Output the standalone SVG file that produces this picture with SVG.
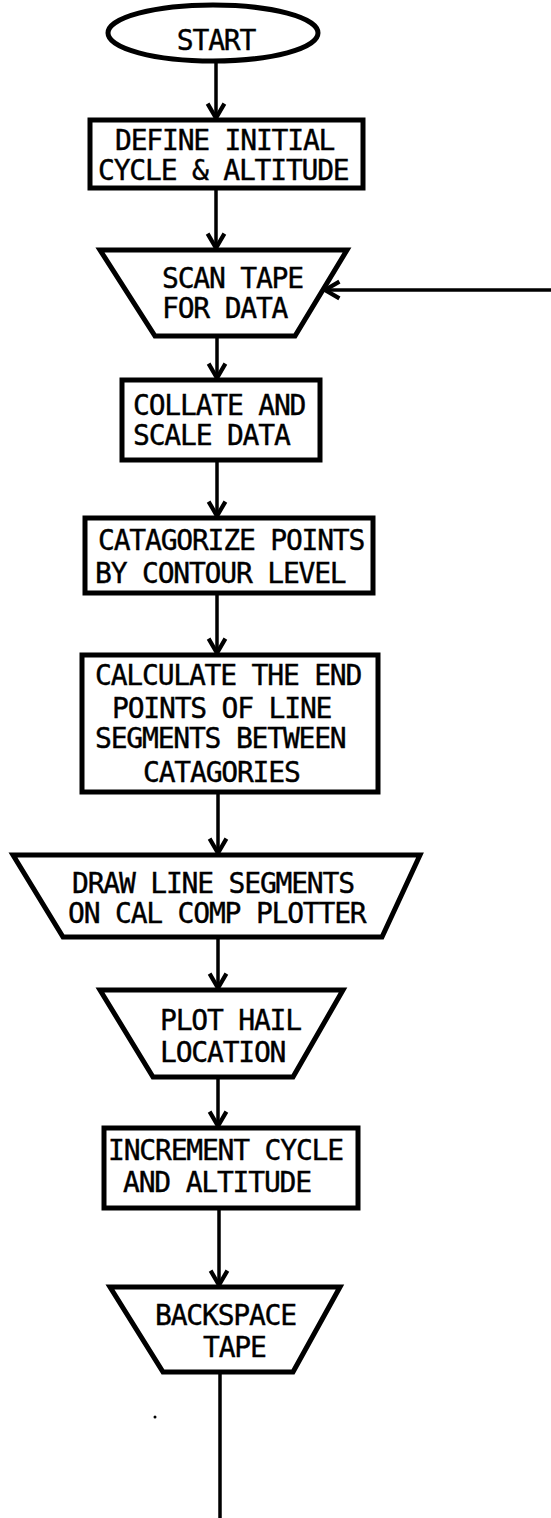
<svg xmlns="http://www.w3.org/2000/svg" width="551" height="1518" viewBox="0 0 551 1518">
<style>
.shape{fill:#fff;stroke:#000;stroke-width:5;stroke-linejoin:miter}
.conn{fill:none;stroke:#000;stroke-width:3.5}
text{font-family:"DejaVu Sans Mono","Liberation Mono",monospace;font-size:28px;letter-spacing:-1.2px;fill:#000;stroke:#000;stroke-width:0.4}
</style>
<defs>
<marker id="arr" markerUnits="userSpaceOnUse" markerWidth="24" markerHeight="24" viewBox="-14 -10 16 20" refX="0" refY="0" orient="auto">
<path d="M-12,-7 L0,0 L-12,7" fill="none" stroke="#000" stroke-width="3.5"/>
</marker>
</defs>
<rect width="551" height="1518" fill="#fff"/>
<g id="connectors">
<line class="conn" x1="216" y1="62" x2="216" y2="118" marker-end="url(#arr)"/>
<line class="conn" x1="216" y1="188" x2="216" y2="248" marker-end="url(#arr)"/>
<line class="conn" x1="217" y1="336" x2="217" y2="378" marker-end="url(#arr)"/>
<line class="conn" x1="217" y1="460" x2="217" y2="516" marker-end="url(#arr)"/>
<line class="conn" x1="217" y1="593" x2="217" y2="653" marker-end="url(#arr)"/>
<line class="conn" x1="218" y1="792" x2="218" y2="853" marker-end="url(#arr)"/>
<line class="conn" x1="218" y1="937" x2="218" y2="988" marker-end="url(#arr)"/>
<line class="conn" x1="218" y1="1077" x2="218" y2="1126" marker-end="url(#arr)"/>
<line class="conn" x1="219" y1="1208" x2="219" y2="1285" marker-end="url(#arr)"/>
<line class="conn" x1="220" y1="1372" x2="220" y2="1518"/>
<line class="conn" x1="551" y1="290" x2="325" y2="290" marker-end="url(#arr)"/>
</g>
<g id="start">
<ellipse class="shape" cx="213" cy="33" rx="105" ry="28"/>
<text x="216" y="50" text-anchor="middle">START</text>
</g>
<g id="define">
<rect class="shape" x="90" y="120" width="273" height="68"/>
<text x="115" y="150">DEFINE INITIAL</text>
<text x="98" y="180">CYCLE &amp; ALTITUDE</text>
</g>
<g id="scan">
<polygon class="shape" points="100,250 347,250 295,336 155,336"/>
<text x="162" y="288">SCAN TAPE</text>
<text x="162" y="318">FOR DATA</text>
</g>
<g id="collate">
<rect class="shape" x="122" y="380" width="198" height="80"/>
<text x="133" y="415">COLLATE AND</text>
<text x="133" y="445">SCALE DATA</text>
</g>
<g id="categorize">
<rect class="shape" x="85" y="518" width="288" height="75"/>
<text x="98" y="550">CATAGORIZE POINTS</text>
<text x="95" y="583">BY CONTOUR LEVEL</text>
</g>
<g id="calculate">
<rect class="shape" x="82" y="655" width="296" height="137"/>
<text x="95" y="685">CALCULATE THE END</text>
<text x="112" y="718">POINTS OF LINE</text>
<text x="95" y="748">SEGMENTS BETWEEN</text>
<text x="143" y="782">CATAGORIES</text>
</g>
<g id="draw">
<polygon class="shape" points="13,855 420,855 382,937 63,937"/>
<text x="72" y="893">DRAW LINE SEGMENTS</text>
<text x="68" y="923">ON CAL COMP PLOTTER</text>
</g>
<g id="plot">
<polygon class="shape" points="100,990 343,990 293,1077 153,1077"/>
<text x="160" y="1030">PLOT HAIL</text>
<text x="160" y="1062">LOCATION</text>
</g>
<g id="increment">
<rect class="shape" x="104" y="1128" width="254" height="80"/>
<text x="108" y="1160">INCREMENT CYCLE</text>
<text x="123" y="1192">AND ALTITUDE</text>
</g>
<g id="backspace">
<polygon class="shape" points="110,1287 340,1287 293,1372 163,1372"/>
<text x="155" y="1325">BACKSPACE</text>
<text x="203" y="1357">TAPE</text>
</g>
<circle cx="155" cy="1417" r="1.5" fill="#000"/>
</svg>
